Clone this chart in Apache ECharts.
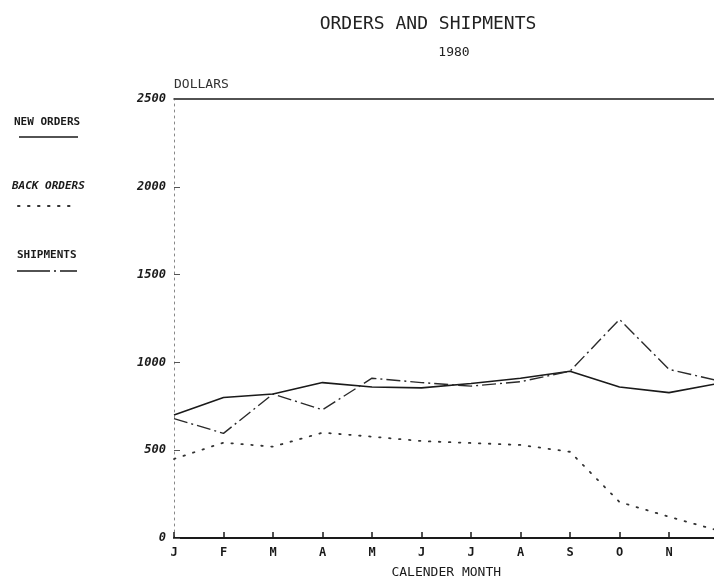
<!DOCTYPE html>
<html>
<head>
<meta charset="utf-8">
<script src="https://cdn.jsdelivr.net/npm/echarts@6/dist/echarts.min.js"></script>
<style>html,body{margin:0;padding:0;background:#fff}#c{width:714px;height:580px}</style>
</head>
<body>
<div id="c"></div>
<script>
const categories = ['JAN','FEB','MAR','APR','MAY','JUN','JUL','AUG','SEP','OCT','NOV','DEC'];
const monthLabels = ['J','F','M','A','M','J','J','A','S','O','N','D'];
const newOrders = [700, 800, 820, 885, 860, 855, 880, 910, 950, 860, 828, 880];
const backOrders = [450, 543, 520, 600, 577, 552, 541, 530, 491, 205, 121, 42];
const shipments = [680, 596, 820, 730, 910, 885, 865, 890, 950, 1245, 960, 895];
const yTicks = [0, 500, 1000, 1500, 2000, 2500];

const FONT = 'DejaVu Sans Mono';
const INK = '#1a1a1a';

const chart = echarts.init(document.getElementById('c'), null, {renderer: 'canvas'});
chart.setOption({
  animation: false,
  backgroundColor: '#fff',
  title: [
    {text: 'ORDERS AND SHIPMENTS', left: 423, top: 10, textAlign: 'center',
     textStyle: {fontFamily: FONT, fontSize: 18, fontWeight: 'normal', color: '#222'}},
    {text: '1980', left: 449, top: 41, textAlign: 'center',
     textStyle: {fontFamily: FONT, fontSize: 13, fontWeight: 'normal', color: '#222'}}
  ],
  grid: {left: 174, width: 544.5, top: 99, height: 439, containLabel: false, outerBoundsMode: 'none'},
  xAxis: [
    {
      type: 'category', data: categories, boundaryGap: false,
      name: 'CALENDER MONTH', nameLocation: 'middle', nameGap: 28,
      nameTextStyle: {fontFamily: FONT, fontSize: 13, color: INK},
      axisLine: {lineStyle: {color: INK, width: 2}},
      axisTick: {inside: true, length: 6, lineStyle: {color: INK, width: 1.5}},
      axisLabel: {margin: 9, fontFamily: FONT, fontSize: 12, fontWeight: 'bold', color: INK,
        formatter: (v, i) => monthLabels[i]},
      splitLine: {show: false}
    },
    {
      type: 'value', position: 'top', min: 0, max: 1,
      axisLine: {show: true, onZero: false, lineStyle: {color: INK, width: 1.5}},
      axisTick: {show: false}, axisLabel: {show: false}, splitLine: {show: false}
    }
  ],
  yAxis: {
    type: 'value', min: 0, max: 2500, interval: 500,
    name: 'DOLLARS', nameLocation: 'end', nameGap: 8,
    nameTextStyle: {fontFamily: FONT, fontSize: 13, color: '#333', align: 'left'},
    axisLine: {show: true, lineStyle: {color: '#888', width: 1, type: [2, 4]}},
    axisTick: {show: true, inside: true, length: 6, lineStyle: {color: '#555', width: 1}},
    axisLabel: {margin: 8, fontFamily: FONT, fontSize: 12, fontWeight: 'bold', fontStyle: 'italic', color: INK,
      formatter: v => yTicks.indexOf(v) >= 0 ? String(v) : ''},
    splitLine: {show: false}
  },
  series: [
    {name: 'NEW ORDERS', type: 'line', data: newOrders, showSymbol: false, symbol: 'none',
     lineStyle: {color: INK, width: 1.6}},
    {name: 'BACK ORDERS', type: 'line', data: backOrders, showSymbol: false, symbol: 'none',
     lineStyle: {color: '#333', width: 1.8, type: [1.5, 8.5], cap: 'round'}},
    {name: 'SHIPMENTS', type: 'line', data: shipments, showSymbol: false, symbol: 'none',
     lineStyle: {color: '#2a2a2a', width: 1.4, type: [14, 4, 2, 4]}}
  ],
  graphic: [
    {type: 'text', left: 14, top: 117, style: {text: 'NEW ORDERS', fontFamily: FONT, fontSize: 11, fontWeight: 'bold', fill: INK}},
    {type: 'line', shape: {x1: 19, y1: 137, x2: 78, y2: 137}, style: {stroke: INK, lineWidth: 1.5}},
    {type: 'text', left: 12, top: 181, style: {text: 'BACK ORDERS', fontFamily: FONT, fontSize: 11, fontWeight: 'bold', fontStyle: 'italic', fill: INK}},
    {type: 'line', shape: {x1: 18, y1: 206, x2: 72, y2: 206}, style: {stroke: '#333', lineWidth: 2, lineDash: [1.5, 8.5], lineCap: 'round'}},
    {type: 'text', left: 17, top: 250, style: {text: 'SHIPMENTS', fontFamily: FONT, fontSize: 11, fontWeight: 'bold', fill: INK}},
    {type: 'line', shape: {x1: 17, y1: 271, x2: 77, y2: 271}, style: {stroke: INK, lineWidth: 1.5, lineDash: [33, 4, 2, 4, 30]}}
  ]
});
</script>
</body>
</html>
